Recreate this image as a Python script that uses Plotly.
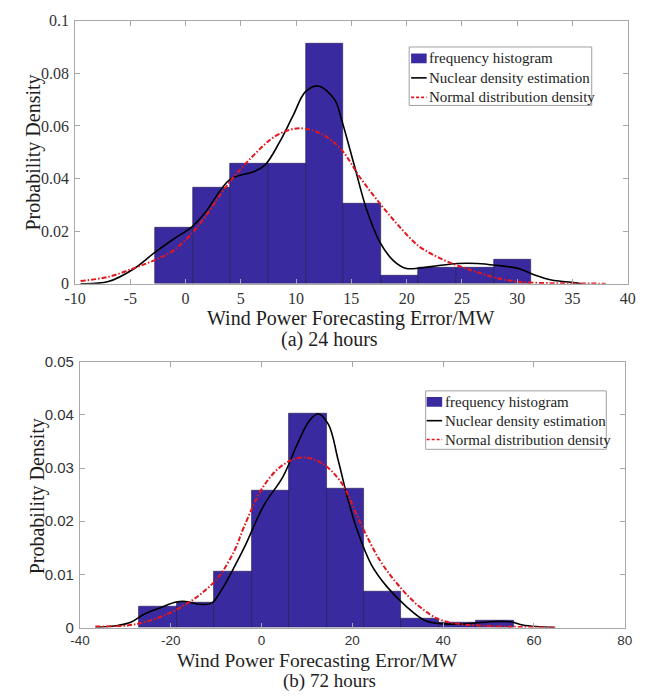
import plotly.graph_objects as go

W, H = 658, 696

# ---------------- data: (a) 24 hours ----------------
top_edges = [-2.73, 0.67, 4.07, 7.47, 10.87, 14.27, 17.67, 21.07, 24.47, 27.87, 31.27]
top_density = [0.0212, 0.0366, 0.0457, 0.0457, 0.0914, 0.0304, 0.0030, 0.0062, 0.0062, 0.0091]

top_kde_x = [-9.5, -7, -4.67, -2.9, -1.15, 0.6, 1.8, 4.0, 6.2, 7.2, 8.5, 9.7, 10.85, 12.0,
             13.5, 14.1, 15.25, 16.4, 17.6, 18.8, 19.9, 21.1, 22.9, 24.6, 26.4, 28.1,
             30.2, 31.65, 33.1, 34.9, 35.8]
top_kde_y = [0.0, 0.0008, 0.0057, 0.0115, 0.0168, 0.0217, 0.0272, 0.0396, 0.0427, 0.0452,
             0.0538, 0.0637, 0.0730, 0.0752, 0.0699, 0.0625, 0.0452, 0.0279, 0.0156, 0.0088,
             0.0059, 0.0059, 0.0069, 0.0077, 0.0077, 0.0070, 0.0057, 0.0032, 0.0014, 0.0005, 0.0]

top_norm_x = [-9.5, -7.0, -4.67, -2.9, -1.15, 0.6, 1.78, 3.82, 6.17, 8.2, 10.27, 12.3, 14.08,
              15.8, 17.6, 19.35, 21.1, 22.86, 24.6, 26.4, 28.1, 30.2, 33.1, 35.5, 38.0]
top_norm_y = [0.0010, 0.0026, 0.0059, 0.0088, 0.0125, 0.0193, 0.0255, 0.0378, 0.0489, 0.0563,
              0.0591, 0.0569, 0.0510, 0.0403, 0.0304, 0.0217, 0.0143, 0.0100, 0.0069, 0.0044,
              0.0022, 0.0007, 0.0002, 0.0001, 0.0]

top_xticks = [-10, -5, 0, 5, 10, 15, 20, 25, 30, 35, 40]
top_xticktext = ["-10", "-5", "0", "5", "10", "15", "20", "25", "30", "35", "40"]
top_yticks = [0, 0.02, 0.04, 0.06, 0.08, 0.1]
top_yticktext = ["0", "0.02", "0.04", "0.06", "0.08", "0.1"]

# ---------------- data: (b) 72 hours ----------------
bot_edges = [-26.9, -18.66, -10.42, -2.18, 6.06, 14.3, 22.54, 30.78, 39.02, 47.26, 55.5]
bot_density = [0.00385, 0.00476, 0.0106, 0.0258, 0.0402, 0.0262, 0.0067, 0.0017, 0.0009, 0.0013]

bot_kde_x = [-36.6, -31.65, -28.8, -25.9, -22.4, -18.8, -16.7, -13.8, -11.0, -8.8, -6.0, -3.5,
             0.45, 4.73, 7.58, 10.45, 12.44, 14.73, 16.87, 19.0, 21.15, 24.2, 27.6, 31.85,
             36.1, 40.4, 44.7, 50.4, 54.7, 57.5, 60.4, 64.7]
bot_kde_y = [0.0, 0.0004, 0.0010, 0.0025, 0.0037, 0.0048, 0.0049, 0.0044, 0.0046, 0.0071,
             0.0114, 0.0156, 0.0229, 0.0284, 0.0339, 0.0388, 0.0402, 0.0382, 0.0315, 0.0242,
             0.0181, 0.0118, 0.0077, 0.0040, 0.0013, 0.0007, 0.0007, 0.0011, 0.0011, 0.0005,
             0.0002, 0.0]

bot_norm_x = [-36.6, -29.5, -25.9, -21.7, -17.4, -13.1, -9.5, -6.0, -3.83, 0.45, 4.73, 9.0,
              13.3, 17.6, 21.86, 26.1, 30.4, 34.7, 39.0, 43.3, 50.4, 57.5, 64.7]
bot_norm_y = [0.0002, 0.0004, 0.0010, 0.0022, 0.0040, 0.0065, 0.0095, 0.0144, 0.0190, 0.0266,
              0.0306, 0.0320, 0.0309, 0.0272, 0.0195, 0.0126, 0.0077, 0.0040, 0.0016, 0.0007,
              0.0003, 0.0001, 0.0]

bot_xticks = [-40, -20, 0, 20, 40, 60, 80]
bot_xticktext = ["-40", "-20", "0", "20", "40", "60", "80"]
bot_yticks = [0, 0.01, 0.02, 0.03, 0.04, 0.05]
bot_yticktext = ["0", "0.01", "0.02", "0.03", "0.04", "0.05"]

legend_labels = ["frequency histogram", "Nuclear density estimation", "Normal distribution density"]
x_title = "Wind Power Forecasting Error/MW"
y_title = "Probability Density"
captions = ["(a) 24 hours", "(b) 72 hours"]

# ---------------- styles ----------------
BAR = "#3a2aa0"
BAR_EDGE = "rgba(25,18,70,0.7)"
RED = "#e3161e"
SERIF = "Liberation Serif, Times New Roman, serif"
SANS = "Liberation Sans, Arial, sans-serif"
AXIS = "#a8a8a8"
TXT = "#1e1e1e"
DASHDOT = "5px,2px,1.5px,2px"


def px(x):
    return x / W


def py(y):
    return 1 - y / H


def centers_widths(edges):
    c = [(edges[i] + edges[i + 1]) / 2 for i in range(len(edges) - 1)]
    w = [edges[i + 1] - edges[i] for i in range(len(edges) - 1)]
    return c, w


fig = go.Figure()

for (edges, dens, kx, ky, nx, ny, xa, ya) in [
    (top_edges, top_density, top_kde_x, top_kde_y, top_norm_x, top_norm_y, "x", "y"),
    (bot_edges, bot_density, bot_kde_x, bot_kde_y, bot_norm_x, bot_norm_y, "x2", "y2"),
]:
    c, w = centers_widths(edges)
    fig.add_trace(go.Bar(x=c, y=dens, width=w, xaxis=xa, yaxis=ya, name=legend_labels[0],
                         marker=dict(color=BAR, line=dict(color=BAR_EDGE, width=0.8)),
                         showlegend=False))
    fig.add_trace(go.Scatter(x=kx, y=ky, xaxis=xa, yaxis=ya, mode="lines", name=legend_labels[1],
                             line=dict(color="black", width=1.6, shape="spline", smoothing=1.0),
                             showlegend=False))
    fig.add_trace(go.Scatter(x=nx, y=ny, xaxis=xa, yaxis=ya, mode="lines", name=legend_labels[2],
                             line=dict(color=RED, width=2, dash=DASHDOT, shape="spline", smoothing=1.0),
                             showlegend=False))


def axis_common(font, size):
    return dict(showline=True, linecolor=AXIS, linewidth=1, mirror="ticks", ticks="inside",
                ticklen=5, tickcolor=AXIS, showgrid=False, zeroline=False,
                tickfont=dict(family=font, size=size, color="#333333"))


fig.update_layout(
    width=W, height=H, margin=dict(l=0, r=0, t=0, b=0),
    paper_bgcolor="white", plot_bgcolor="white", bargap=0, showlegend=False,
    xaxis=dict(domain=[px(66), px(635)], range=[-10, 40], tickvals=top_xticks,
               ticktext=top_xticktext, anchor="y", ticklabelstandoff=0,
               **axis_common(SERIF, 16)),
    yaxis=dict(domain=[py(282), py(12)], range=[0, 0.1], tickvals=top_yticks,
               ticktext=top_yticktext, anchor="x", ticklabelstandoff=2,
               **axis_common(SERIF, 16)),
    xaxis2=dict(domain=[px(71), px(632)], range=[-40, 80], tickvals=bot_xticks,
                ticktext=bot_xticktext, anchor="y2", ticklabelstandoff=0,
                **axis_common(SANS, 13.5)),
    yaxis2=dict(domain=[py(635), py(362)], range=[0, 0.05], tickvals=bot_yticks,
                ticktext=bot_yticktext, anchor="x2", ticklabelstandoff=2,
                **axis_common(SANS, 15)),
)

annotations = [
    dict(text=x_title, x=px(350), y=py(318), font=dict(family=SERIF, size=20, color=TXT)),
    dict(text=captions[0], x=px(328), y=py(339), font=dict(family=SERIF, size=20, color=TXT)),
    dict(text=y_title, x=px(23), y=py(147), textangle=-90, font=dict(family=SERIF, size=20, color=TXT)),
    dict(text=x_title, x=px(316), y=py(668.5), font=dict(family=SERIF, size=19.5, color=TXT)),
    dict(text=captions[1], x=px(328), y=py(689.5), font=dict(family=SERIF, size=19, color=TXT)),
    dict(text=y_title, x=px(27), y=py(500), textangle=-90, font=dict(family=SERIF, size=20, color=TXT)),
]
shapes = []


def add_legend(x0, y0, x1, y1, rows, sym_x0, sym_x1):
    shapes.append(dict(type="rect", xref="paper", yref="paper", x0=px(x0), x1=px(x1),
                       y0=py(y1), y1=py(y0), line=dict(color="#a0a0a0", width=1),
                       fillcolor="white", layer="above"))
    shapes.append(dict(type="rect", xref="paper", yref="paper", x0=px(sym_x0), x1=px(sym_x1),
                       y0=py(rows[0] + 5), y1=py(rows[0] - 5), line=dict(width=0),
                       fillcolor=BAR, layer="above"))
    shapes.append(dict(type="line", xref="paper", yref="paper", x0=px(sym_x0), x1=px(sym_x1),
                       y0=py(rows[1]), y1=py(rows[1]), line=dict(color="black", width=1.6),
                       layer="above"))
    shapes.append(dict(type="line", xref="paper", yref="paper", x0=px(sym_x0), x1=px(sym_x1),
                       y0=py(rows[2]), y1=py(rows[2]), line=dict(color=RED, width=1.6, dash="3px,2px"),
                       layer="above"))
    for lab, r in zip(legend_labels, rows):
        annotations.append(dict(text=lab, x=px(sym_x1 + 0.5), y=py(r), xanchor="left",
                                font=dict(family=SERIF, size=15, color=TXT)))


add_legend(410, 39, 598, 99, [50.7, 70.7, 90.7], 412, 428)
add_legend(427, 392, 613, 452, [403.3, 422.6, 442.0], 428, 444)

for a in annotations:
    a.setdefault("xref", "paper")
    a.setdefault("yref", "paper")
    a.setdefault("showarrow", False)
    a.setdefault("xanchor", "center")
    a.setdefault("yanchor", "middle")

fig.update_layout(annotations=annotations, shapes=shapes)
fig.write_html("out.html")
